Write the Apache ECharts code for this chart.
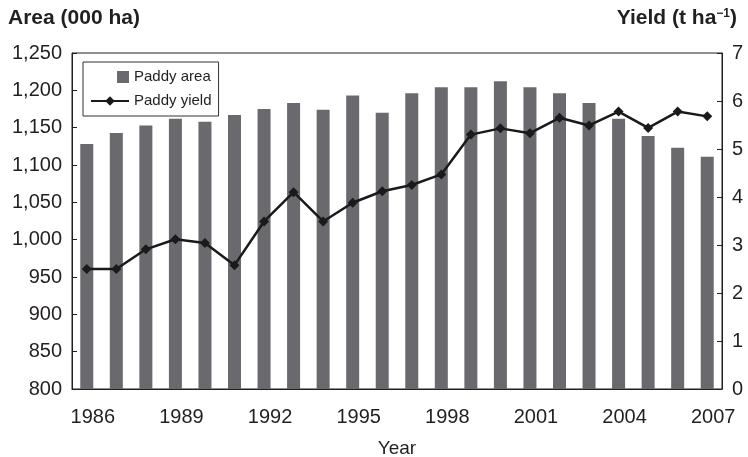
<!DOCTYPE html>
<html>
<head>
<meta charset="utf-8">
<script src="https://cdn.jsdelivr.net/npm/echarts@6/dist/echarts.min.js"></script>
<style>html,body{margin:0;padding:0;background:#fff}#c{width:748px;height:457px}</style>
</head>
<body>
<div id="c"></div>
<script>
const years = ['1986','1987','1988','1989','1990','1991','1992','1993','1994','1995','1996','1997','1998','1999','2000','2001','2002','2003','2004','2005','2006','2007'];
const paddyArea = [1128,1143,1153,1162,1158,1167,1175,1183,1174,1193,1170,1196,1204,1204,1212,1204,1196,1183,1162,1139,1123,1111];
const paddyYield = [2.50,2.50,2.91,3.12,3.04,2.58,3.49,4.10,3.49,3.88,4.12,4.25,4.47,5.30,5.43,5.33,5.65,5.49,5.78,5.44,5.78,5.68];
const areaTicks = {min: 800, max: 1250, interval: 50};
const yieldTicks = {min: 0, max: 7, interval: 1};

const FONT = 'Liberation Sans, Arial, sans-serif';
const TXT = '#231f20';
const chart = echarts.init(document.getElementById('c'), null, {renderer: 'canvas'});
chart.setOption({
  animation: false,
  backgroundColor: '#fff',
  textStyle: {fontFamily: FONT, color: TXT},
  title: [
    {text: 'Area (000 ha)', left: 8, top: 8, padding: 0,
     textStyle: {fontFamily: FONT, fontSize: 21, fontWeight: 'bold', color: TXT}},
    {text: 'Yield (t ha{sup|\u22121})', right: 11, top: 8, padding: 0,
     textStyle: {fontFamily: FONT, fontSize: 21, fontWeight: 'bold', color: TXT,
       rich: {sup: {fontSize: 12, fontWeight: 'bold', color: TXT, fontFamily: FONT, verticalAlign: 'top', padding: [0,0,8,0]}}}}
  ],
  grid: {left: 72, right: 26, top: 53, bottom: 68, containLabel: false, outerBoundsMode: 'none',
         show: true, borderColor: '#231f20', borderWidth: 1, backgroundColor: 'transparent'},
  legend: {
    orient: 'vertical', left: 83, top: 62,
    backgroundColor: '#fff',
    borderColor: '#333', borderWidth: 1, borderRadius: 0,
    padding: [7, 7, 7, 7],
    itemWidth: 38, itemHeight: 12, itemGap: 8,
    textStyle: {fontFamily: FONT, fontSize: 15, color: TXT, lineHeight: 16},
    data: [
      {name: 'Paddy area', icon: 'path://M0,0 L0,0.001 Z M26,0 L38,0 L38,12 L26,12 Z'},
      {name: 'Paddy yield'}
    ]
  },
  xAxis: {
    type: 'category', data: years, boundaryGap: true,
    name: 'Year', nameLocation: 'middle', nameGap: 50,
    nameTextStyle: {fontFamily: FONT, fontSize: 19, color: TXT},
    axisLine: {lineStyle: {color: '#231f20', width: 1}},
    axisTick: {inside: true, length: 5, interval: 0, lineStyle: {color: '#231f20'}},
    axisLabel: {interval: 2, margin: 18, fontSize: 20, color: TXT, fontFamily: FONT, padding: [0, 0, 0, 12]},
    splitLine: {show: false}
  },
  yAxis: [
    {type: 'value', min: areaTicks.min, max: areaTicks.max, interval: areaTicks.interval,
     axisLine: {show: true, lineStyle: {color: '#231f20'}},
     axisTick: {show: true, inside: true, length: 5, lineStyle: {color: '#231f20'}},
     axisLabel: {fontSize: 20, color: TXT, fontFamily: FONT, margin: 10,
       formatter: v => v.toLocaleString('en-US')},
     splitLine: {show: false}},
    {type: 'value', min: yieldTicks.min, max: yieldTicks.max, interval: yieldTicks.interval, position: 'right',
     axisLine: {show: true, lineStyle: {color: '#231f20'}},
     axisTick: {show: true, inside: true, length: 5, lineStyle: {color: '#231f20'}},
     axisLabel: {fontSize: 20, color: TXT, fontFamily: FONT, margin: 10},
     splitLine: {show: false}}
  ],
  series: [
    {name: 'Paddy area', type: 'bar', data: paddyArea, yAxisIndex: 0, barWidth: 13,
     itemStyle: {color: '#6a6a6e'}},
    {name: 'Paddy yield', type: 'line', data: paddyYield, yAxisIndex: 1,
     symbol: 'diamond', symbolSize: 10, showSymbol: true,
     lineStyle: {color: '#1a1a1a', width: 2.5},
     itemStyle: {color: '#1a1a1a'}}
  ]
});
</script>
</body>
</html>
